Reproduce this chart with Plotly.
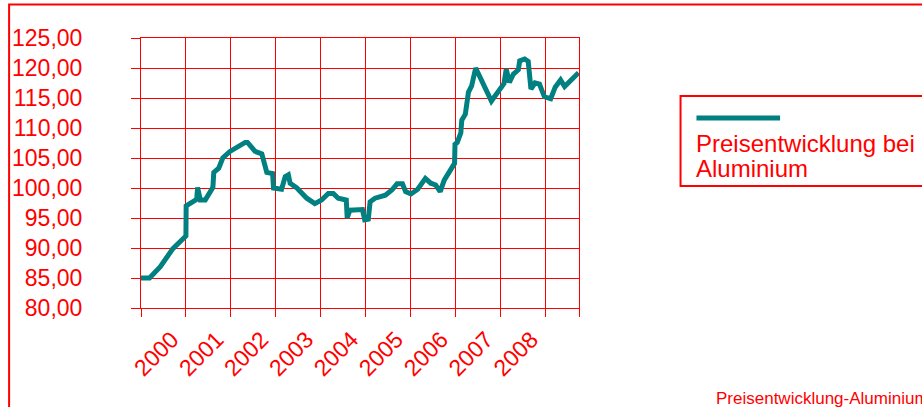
import plotly.graph_objects as go

# ---- data ----
series_name = "Preisentwicklung bei Aluminium"
footer_text = "Preisentwicklung-Aluminium"

years = [1999.00, 1999.19, 1999.43, 1999.71, 2000.00, 2000.005, 2000.24, 2000.26, 2000.32, 2000.43,
         2000.60, 2000.62, 2000.73, 2000.82, 2000.98, 2001.15, 2001.32, 2001.37, 2001.54, 2001.69,
         2001.80, 2001.93, 2001.95, 2002.13, 2002.21, 2002.28, 2002.32, 2002.47, 2002.69, 2002.87,
         2003.02, 2003.17, 2003.28, 2003.39, 2003.52, 2003.57, 2003.59, 2003.65, 2003.93, 2003.98,
         2004.06, 2004.10, 2004.21, 2004.44, 2004.59, 2004.70, 2004.82, 2004.89, 2005.01, 2005.16,
         2005.33, 2005.45, 2005.56, 2005.66, 2005.75, 2005.98, 2005.99, 2006.04, 2006.12, 2006.14,
         2006.22, 2006.29, 2006.36, 2006.45, 2006.80, 2006.93, 2007.08, 2007.13, 2007.20, 2007.29,
         2007.40, 2007.43, 2007.54, 2007.62, 2007.68, 2007.77, 2007.87, 2007.98, 2008.12, 2008.22,
         2008.34, 2008.43, 2008.58, 2008.74]
prices = [85.0, 85.0, 86.9, 89.9, 92.0, 97.0, 98.1, 100.1, 98.0, 98.0,
          100.1, 102.6, 103.3, 105.0, 106.1, 106.9, 107.6, 107.6, 106.1, 105.7,
          102.6, 102.4, 100.0, 99.8, 101.9, 102.2, 100.8, 100.0, 98.3, 97.4,
          98.0, 99.1, 99.1, 98.3, 98.0, 98.0, 95.0, 96.3, 96.4, 94.7,
          94.8, 97.7, 98.3, 98.8, 99.7, 100.7, 100.7, 99.4, 99.0, 99.8,
          101.6, 100.8, 100.5, 99.4, 101.3, 104.1, 107.3, 107.6, 109.2, 111.3,
          112.3, 116.0, 117.0, 120.0, 114.5, 116.0, 117.4, 119.8, 117.6, 119.0,
          119.7, 121.2, 121.5, 121.1, 116.5, 117.5, 117.3, 115.2, 114.9, 116.8,
          118.0, 116.9, 118.0, 119.2]

x_tick_vals = [1999, 2000, 2001, 2002, 2003, 2004, 2005, 2006, 2007, 2008, 2008.75]
x_tick_text = ["", "2000", "2001", "2002", "2003", "2004", "2005", "2006", "2007", "2008", ""]
y_tick_vals = [80, 85, 90, 95, 100, 105, 110, 115, 120, 125]
y_tick_text = ["80,00", "85,00", "90,00", "95,00", "100,00", "105,00", "110,00", "115,00", "120,00", "125,00"]

RED = "#ff0000"
TEAL = "#008080"
FONT = "Liberation Sans, Arial, sans-serif"

W, H = 922, 407
L, R, T, B = 139, 343, 38, 99
PW, PH = W - L - R, H - T - B


def px(xp):
    return (xp - L) / PW


def py(yp):
    return (T + PH - yp) / PH


fig = go.Figure()
fig.add_trace(go.Scatter(x=years, y=prices, mode="lines", name=series_name,
                         line=dict(color=TEAL, width=5), showlegend=False))

fig.update_layout(
    width=W, height=H,
    margin=dict(l=L, r=R, t=T, b=B, pad=0),
    paper_bgcolor="white", plot_bgcolor="white",
    font=dict(family=FONT, color=RED, size=23),
    xaxis=dict(range=[1999, 2008.75], tickvals=x_tick_vals, ticktext=x_tick_text,
               tickangle=-45, showgrid=True, gridcolor=RED, gridwidth=1,
               showline=True, linecolor=RED, linewidth=1, mirror=True,
               ticks="outside", ticklen=8, tickcolor=RED, tickwidth=1,
               ticklabelshift=-14,
               tickfont=dict(size=23, color=RED, family=FONT), zeroline=False),
    yaxis=dict(range=[80, 125], tickvals=y_tick_vals, ticktext=y_tick_text,
               showgrid=True, gridcolor=RED, gridwidth=1,
               showline=True, linecolor=RED, linewidth=1, mirror=True,
               ticks="outside", ticklen=9, tickcolor=RED, tickwidth=1,
               ticklabelstandoff=44,
               tickfont=dict(size=23, color=RED, family=FONT), zeroline=False),
)

shapes = [
    # outer frame
    dict(type="rect", xref="paper", yref="paper", x0=px(6.5), x1=px(960), y0=py(440), y1=py(4.5),
         line=dict(color=RED, width=2), fillcolor="rgba(0,0,0,0)"),
    # legend box
    dict(type="rect", xref="paper", yref="paper", x0=px(681), x1=px(960), y0=py(186), y1=py(96),
         line=dict(color=RED, width=2), fillcolor="white"),
    # legend swatch
    dict(type="line", xref="paper", yref="paper", x0=px(697), x1=px(781), y0=py(118), y1=py(118),
         line=dict(color=TEAL, width=5)),
]
fig.update_layout(shapes=shapes)

name_parts = series_name.rsplit(" ", 1)
fig.add_annotation(text=name_parts[0], xref="paper", yref="paper", x=px(696), y=py(143),
                   xanchor="left", yanchor="middle", showarrow=False, borderpad=0,
                   font=dict(size=24, color=RED, family=FONT))
fig.add_annotation(text=name_parts[1], xref="paper", yref="paper", x=px(696), y=py(168),
                   xanchor="left", yanchor="middle", showarrow=False, borderpad=0,
                   font=dict(size=24, color=RED, family=FONT))
fig.add_annotation(text=footer_text, xref="paper", yref="paper", x=px(716), y=py(398),
                   xanchor="left", yanchor="middle", showarrow=False, borderpad=0,
                   font=dict(size=17, color=RED, family=FONT))

fig.write_html("out.html", config={"displayModeBar": False},
               post_script="document.body.style.margin='0';document.body.style.overflow='hidden';")
